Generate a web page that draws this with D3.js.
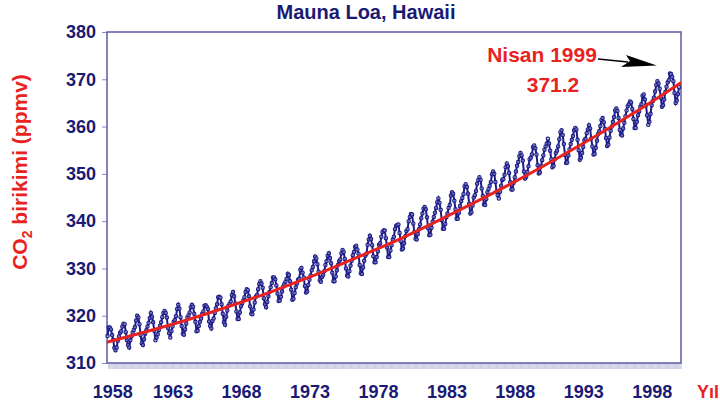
<!DOCTYPE html>
<html><head><meta charset="utf-8">
<script src="https://cdn.jsdelivr.net/npm/d3@7"></script>
<style>
html,body{margin:0;padding:0;background:#fff;}
svg{display:block;font-family:"Liberation Sans",Arial,sans-serif;font-weight:bold;}
</style></head>
<body><svg id="c" width="720" height="410"></svg>
<script>
// ---- data ----
const title = "Mauna Loa, Hawaii";
const yTickValues = [310, 320, 330, 340, 350, 360, 370, 380];
const xTickYears = [1958, 1963, 1968, 1973, 1978, 1983, 1988, 1993, 1998];
const startYear = 1958, startMonth = 3;   // series starts March 1958
// monthly CO2 (ppmv), one row per year
const co2Monthly = [
 [315.7,317.5,317.5,317.1,315.9,314.9,313.2,312.7,313.3,314.7],
 [315.6,316.4,316.7,317.7,318.3,318.2,316.5,314.8,313.8,313.3,314.8,315.6],
 [316.4,317.0,317.6,319.0,320.0,319.6,318.2,315.9,314.2,313.8,315.0,316.2],
 [316.9,317.7,318.5,319.5,320.6,319.8,318.6,316.8,314.8,315.4,316.1,317.0],
 [317.9,318.6,319.7,320.6,321.0,320.6,319.6,317.4,316.3,315.4,316.7,317.7],
 [318.7,319.1,319.9,321.4,322.3,321.5,319.7,317.8,316.2,316.0,317.1,318.3],
 [319.6,320.1,320.7,321.8,322.3,321.9,320.4,318.7,316.7,316.8,317.8,318.7],
 [319.4,320.4,320.9,322.1,322.2,321.9,321.4,318.8,317.8,317.3,318.9,319.4],
 [320.6,321.6,322.4,323.9,324.0,323.8,322.4,320.4,318.6,318.1,319.8,321.1],
 [322.1,322.5,323.0,324.4,325.0,324.1,322.6,320.9,319.3,319.3,320.7,322.0],
 [322.6,323.2,323.9,325.0,325.6,325.4,324.1,322.0,320.4,320.3,321.3,322.8],
 [324.0,324.4,325.6,326.7,327.3,326.8,325.9,323.7,322.4,321.8,322.9,324.1],
 [325.0,326.0,326.9,328.1,328.1,327.7,326.4,324.7,323.1,323.2,324.0,325.1],
 [326.2,326.7,327.2,327.8,328.9,328.6,327.3,325.5,323.4,323.6,324.8,326.0],
 [326.8,327.6,327.8,329.7,330.1,329.1,328.1,326.3,324.9,325.1,326.5,327.6],
 [328.5,329.6,330.3,331.5,332.5,332.1,330.9,329.3,327.5,327.2,328.2,328.6],
 [329.4,330.7,331.5,332.7,333.2,332.2,331.1,329.1,327.3,327.3,328.3,329.6],
 [330.7,331.5,331.9,333.2,333.9,333.5,332.0,330.0,328.5,328.3,329.4,330.6],
 [331.6,332.8,333.5,334.6,334.8,334.0,333.1,330.7,329.0,328.8,330.2,331.6],
 [332.7,333.1,335.0,336.1,336.9,336.2,334.9,332.6,331.3,331.3,332.4,333.6],
 [335.0,335.3,336.7,337.7,338.0,338.0,336.4,334.4,332.4,332.4,333.8,334.9],
 [336.1,336.7,338.3,339.0,339.2,339.3,337.5,335.8,334.0,334.2,335.3,336.8],
 [337.9,338.3,340.0,340.9,341.5,341.4,339.5,337.7,336.3,336.1,337.3,338.3],
 [339.3,340.6,341.6,342.6,343.0,342.5,340.8,338.5,337.0,337.1,338.6,339.9],
 [340.9,341.8,342.8,344.0,344.8,343.9,342.4,340.2,338.4,338.4,339.4,340.8],
 [341.6,342.8,343.4,345.4,346.1,345.8,344.3,342.5,340.5,340.5,341.8,343.2],
 [344.2,344.9,345.7,347.4,347.8,347.2,345.8,343.7,341.6,341.9,343.3,345.0],
 [345.5,346.4,347.9,348.7,349.3,348.7,346.9,345.3,343.5,343.4,344.7,346.1],
 [346.8,347.5,348.3,349.9,350.5,350.0,348.3,346.2,345.5,344.8,346.2,347.5],
 [348.7,348.9,349.8,351.4,352.2,351.6,350.2,348.2,346.7,346.7,348.1,349.3],
 [350.5,351.7,352.5,353.7,354.4,353.9,352.8,350.5,349.0,349.4,350.4,351.6],
 [353.1,353.4,354.1,355.7,356.0,355.4,354.1,351.8,350.1,350.3,351.6,352.9],
 [353.9,355.1,355.8,356.4,357.4,356.4,354.9,353.1,351.4,351.7,353.1,354.4],
 [354.9,355.8,357.3,358.8,359.2,358.2,356.3,354.0,352.3,352.4,353.9,355.2],
 [356.3,357.2,358.0,359.2,359.7,359.4,357.2,355.0,353.0,353.4,354.4,355.7],
 [357.1,357.4,358.6,359.4,360.3,359.6,357.5,355.8,354.1,354.2,355.5,357.0],
 [358.4,359.0,360.1,361.4,361.8,360.9,359.5,357.6,355.9,356.2,357.7,359.1],
 [360.0,361.0,362.0,363.4,363.8,363.3,361.8,359.3,358.3,358.1,359.6,360.8],
 [362.2,363.4,364.3,364.7,365.3,365.1,363.7,361.6,359.7,359.7,361.0,362.4],
 [363.2,364.2,364.7,366.5,366.8,365.7,364.5,362.4,360.4,361.0,362.7,364.5],
 [365.4,366.1,367.4,368.8,369.6,369.1,368.0,366.1,364.2,364.5,365.7,367.3],
 [368.4,369.3,369.8,371.2,371.1,370.5,369.6,367.1,365.0,365.5,366.9,368.3]
];
// smooth trend (red)
const trendYears  = [1958.17,1961,1964,1967,1970,1973,1976,1979,1982,1985,1988,1991,1994,1997,2000.1];
const trendValues = [314.4,316.6,319.1,321.9,324.9,328.2,331.8,335.5,339.6,343.9,348.4,353.2,358.2,363.5,369.3];
const annotation = {label: "Nisan 1999", value: "371.2", year: 1999.29, ppm: 371.2};
const xDomain = [1958.17, 2000.1];

// ---- build series ----
const series = [];
co2Monthly.forEach((row, i) => {
  const m0 = i === 0 ? startMonth : 1;
  row.forEach((v, j) => series.push({t: startYear + i + (m0 + j - 0.5) / 12, v}));
});
const trend = trendYears.map((t, i) => ({t, v: trendValues[i]}));

// ---- layout ----
const svg = d3.select("#c");
const L = 107, R = 681, T = 32, B = 363;
const navy = "#1a1a74", red = "#e8231f";
const x = d3.scaleLinear().domain(xDomain).range([L, R]);
const y = d3.scaleLinear().domain([310, 380]).range([B, T]);

// title
svg.append("text").attr("x", 366).attr("y", 19).attr("text-anchor", "middle")
  .attr("fill", navy).attr("font-size", 20).text(title);

// monthly minor ticks below x axis
const monthTicks = d3.range(Math.ceil(xDomain[0] * 12) / 12, xDomain[1], 1 / 12);
const xAxis = d3.axisBottom(x).tickValues(monthTicks).tickSize(6).tickFormat("");
const gx = svg.append("g").attr("transform", `translate(0,${B})`).call(xAxis);
gx.select(".domain").remove();
gx.selectAll(".tick line").attr("stroke", "#9a9ac8").attr("stroke-width", 0.5);

// x tick labels
svg.append("g").selectAll("text").data(xTickYears).join("text")
  .attr("x", d => x(d) + (d === xTickYears[0] ? 8 : 0)).attr("y", 398)
  .attr("text-anchor", "middle").attr("fill", navy).attr("font-size", 18)
  .text(d => d);

// y axis
const yAxis = d3.axisLeft(y).tickValues(yTickValues).tickSize(5).tickPadding(6).tickFormat(d3.format("d"));
const gy = svg.append("g").attr("transform", `translate(${L},0)`).call(yAxis);
gy.select(".domain").remove();
gy.selectAll(".tick line").attr("stroke", "#8a8ac0");
gy.selectAll(".tick text").attr("fill", navy).attr("font-size", 18)
  .attr("font-family", "'Liberation Sans',Arial,sans-serif").attr("font-weight", "bold");

// plot frame
svg.append("rect").attr("x", L).attr("y", T).attr("width", R - L).attr("height", B - T)
  .attr("fill", "none").attr("stroke", "#5c5ca6").attr("stroke-width", 1.5);

// y label
const yl = svg.append("text").attr("transform", `translate(27,172) rotate(-90)`)
  .attr("text-anchor", "middle").attr("fill", red).attr("font-size", 21);
yl.append("tspan").text("CO");
yl.append("tspan").attr("font-size", 14).attr("dy", 5).text("2");
yl.append("tspan").attr("dy", -5).text(" birikimi (ppmv)");

// x label
svg.append("text").attr("x", 697).attr("y", 398).attr("fill", red).attr("font-size", 18).text("Yıl");

// data line with markers
const line = d3.line().x(d => x(d.t)).y(d => y(d.v));
svg.append("path").datum(series).attr("d", line).attr("fill", "none")
  .attr("stroke", "#1b1b88").attr("stroke-width", 2);
svg.append("g").selectAll("circle").data(series).join("circle")
  .attr("cx", d => x(d.t)).attr("cy", d => y(d.v)).attr("r", 1.7)
  .attr("fill", "#ffffff").attr("fill-opacity", 0.35).attr("stroke", "#1b1b88").attr("stroke-width", 1.1);

// trend line
svg.append("path").datum(trend).attr("d", d3.line().x(d => x(d.t)).y(d => y(d.v)).curve(d3.curveMonotoneX))
  .attr("fill", "none").attr("stroke", red).attr("stroke-width", 3);

// annotation
svg.append("text").attr("x", 542).attr("y", 62).attr("text-anchor", "middle")
  .attr("fill", red).attr("font-size", 21).text(annotation.label);
svg.append("text").attr("x", 553).attr("y", 92).attr("text-anchor", "middle")
  .attr("fill", red).attr("font-size", 21).text(annotation.value);
const tipX = x(annotation.year) - 13, tipY = y(annotation.ppm) - 8;
svg.append("line").attr("x1", 598).attr("y1", 59).attr("x2", 628).attr("y2", 62)
  .attr("stroke", "#000").attr("stroke-width", 1.5);
svg.append("path").attr("d", `M${tipX},${tipY} L626,55 L630,61 L621,67 Z`).attr("fill", "#000");
</script></body></html>
